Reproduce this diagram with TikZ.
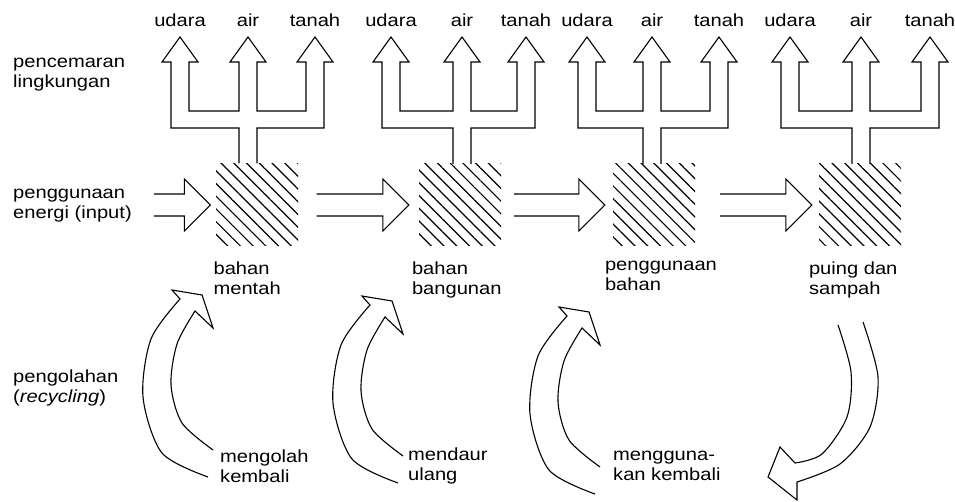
\documentclass[tikz,border=0pt]{standalone}
\usepackage{fontspec}
\setmainfont{Liberation Sans}[FakeStretch=1.15]
\usetikzlibrary{calc,patterns.meta}

% three-way outline arrow from a box up to the three media
\newcommand\fork[4]{%
  \draw[outl] let \p4=(#1.north), \p1=(#2), \p2=(#3), \p3=(#4) in
    (\x2-9,\y4) -- (\x2-9,374) -- (\x1-9,374) -- (\x1-9,440) -- (\x1-18,440) -- (\x1,465)
    -- (\x1+18,440) -- (\x1+9,440) -- (\x1+9,391) -- (\x2-9,391) -- (\x2-9,440) -- (\x2-18,440)
    -- (\x2,465) -- (\x2+18,440) -- (\x2+9,440) -- (\x2+9,391) -- (\x3-9,391) -- (\x3-9,440)
    -- (\x3-18,440) -- (\x3,465) -- (\x3+18,440) -- (\x3+9,440) -- (\x3+9,374) -- (\x2+9,374)
    -- (\x2+9,\y4);}
% straight outline arrow, open tail
\newcommand\hblock[2]{%
  \draw[outl] let \p1=(#1), \p2=(#2) in
    (\x1,\y2+11) -- (\x2-26,\y2+11) -- (\x2-26,\y2+26) -- (\x2,\y2)
    -- (\x2-26,\y2-26) -- (\x2-26,\y2-11) -- (\x1,\y2-11);}
% curved outline arrow of the recycling loop
\newcommand\recyc[1]{%
  \begin{scope}[shift={#1}]
    \draw[outl] plot[smooth] coordinates {(208,25) (162,49) (143,105) (151,163) (180,203)}
      -- (172,212) -- (202,207) -- (213,174) -- (195,191)
      -- plot[smooth] coordinates {(195,191) (177,158) (171,117) (182,79) (213,52)};
  \end{scope}}

\begin{document}
\begin{tikzpicture}[x=1pt,y=1pt,
    outl/.style={line width=1.1pt, line join=miter},
    lbl/.style={align=left, inner sep=0pt, font=\fontsize{17.5}{20}\selectfont},
    medium/.style={inner sep=0pt, font=\fontsize{17.5}{20}\selectfont},
    hatch/.style={minimum width=82pt, minimum height=82pt, inner sep=0pt,
      pattern={Lines[angle=-45, distance=9pt, line width=1.2pt]}}]
\useasboundingbox (0,0) rectangle (955,502);

% left column
\node [lbl, anchor=west] (pollution) at (13,427) {pencemaran\\lingkungan};
\node [lbl, anchor=west] (energy) at (13,296) {penggunaan\\energi (input)};
\node [lbl, anchor=west] (recycling) at (13,114) {pengolahan\\(\textit{recycling})};

% material stages
\node [hatch] (raw) at (257,297) {};
\node [hatch] (build) at (460,297) {};
\node [hatch] (use) at (654,297) {};
\node [hatch] (waste) at (860,297) {};

\node [lbl, anchor=north west] (rawl) at ([xshift=-2pt,yshift=-15pt]raw.south west) {bahan\\mentah};
\node [lbl, anchor=north west] (buildl) at ([xshift=-7pt,yshift=-15pt]build.south west) {bahan\\bangunan};
\node [lbl, anchor=north west] (usel) at ([xshift=-8pt,yshift=-15pt]use.south west) {penggunaan\\bahan};
\node [lbl, anchor=north west] (wastel) at ([xshift=-10pt,yshift=-15pt]waste.south west) {puing dan\\sampah};

% media
\node [medium] (ud1) at (180,482) {udara};
\node [medium] (ai1) at (248,482) {air};
\node [medium] (ta1) at (315,482) {tanah};
\node [medium] (ud2) at (391,482) {udara};
\node [medium] (ai2) at (462,482) {air};
\node [medium] (ta2) at (526,482) {tanah};
\node [medium] (ud3) at (587,482) {udara};
\node [medium] (ai3) at (652,482) {air};
\node [medium] (ta3) at (719,482) {tanah};
\node [medium] (ud4) at (790,482) {udara};
\node [medium] (ai4) at (861,482) {air};
\node [medium] (ta4) at (930,482) {tanah};

\fork{raw}{ud1}{ai1}{ta1}
\fork{build}{ud2}{ai2}{ta2}
\fork{use}{ud3}{ai3}{ta3}
\fork{waste}{ud4}{ai4}{ta4}

% energy flow
\hblock{[xshift=22pt]energy.east}{[xshift=-5pt]raw.west}
\hblock{[xshift=18pt]raw.east}{[xshift=-10pt]build.west}
\hblock{[xshift=13pt]build.east}{[xshift=-8pt]use.west}
\hblock{[xshift=25pt]use.east}{[xshift=-7pt]waste.west}

% recycling
\node [lbl, anchor=west] (reprocess) at (220,36) {mengolah\\kembali};
\node [lbl, anchor=west] (redo) at (408,36) {mendaur\\ulang};
\node [lbl, anchor=west] (reuse) at (613,36) {mengguna-\\kan kembali};

\recyc{(0,0)}
\recyc{(190,-6)}
\recyc{(387,-17)}

\draw[outl] plot[smooth] coordinates {(838,177) (851,130) (847,85) (822,48) (795,39)}
  -- (780,55) -- (768,25) -- (797,2) -- (797,20)
  -- plot[smooth] coordinates {(797,20) (840,38) (870,75) (878,125) (863,180)};

\end{tikzpicture}
\end{document}
